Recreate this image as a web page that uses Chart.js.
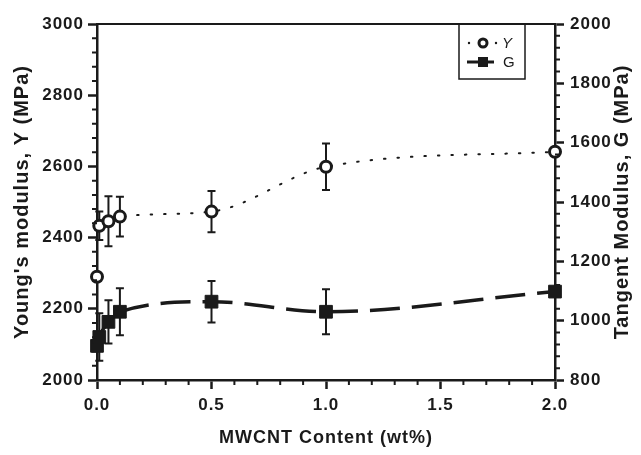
<!DOCTYPE html>
<html>
<head>
<meta charset="utf-8">
<script src="https://cdn.jsdelivr.net/npm/chart.js@4.4.1/dist/chart.umd.min.js"></script>
<style>
  body { margin: 0; background: #fff; }
  #wrap { width: 641px; height: 455px; }
</style>
</head>
<body>
<div id="wrap"><canvas id="modulusChart"></canvas></div>
<script>
// MWCNT loading (wt%) and measured moduli
const mwcnt = [0, 0.01, 0.05, 0.1, 0.5, 1.0, 2.0];
const youngs = [2290, 2433, 2446, 2459, 2473, 2599, 2641];
const youngsErr = [0, 40, 70, 56, 58, 65, 0];
const tangent = [915, 945, 996, 1030, 1064, 1030, 1098];
const tangentErr = [0, 80, 73, 79, 70, 76, 0];

// axis ticks
const xTicks = [0, 0.5, 1.0, 1.5, 2.0];
const youngsTicks = [2000, 2200, 2400, 2600, 2800, 3000];
const tangentTicks = [800, 1000, 1200, 1400, 1600, 1800, 2000];

const ink = '#1a1a1a';
const tickFont = { family: "'Liberation Sans Narrow', 'Liberation Sans', Arial, sans-serif", size: 17, weight: 'bold' };
const titleFamily = "'Liberation Sans', Arial, sans-serif";

Chart.defaults.color = ink;

function axisGrid() {
    return { display: true, drawOnChartArea: false, drawTicks: true, tickLength: 9, tickWidth: 2.5, tickColor: ink };
}

// error bars, drawn under the markers
const errorBars = {
    id: 'errorBars',
    beforeDatasetsDraw(chart) {
        const ctx = chart.ctx;
        ctx.save();
        ctx.strokeStyle = ink;
        ctx.lineWidth = 2;
        chart.data.datasets.forEach((ds, di) => {
            const meta = chart.getDatasetMeta(di);
            const yScale = chart.scales[ds.yAxisID];
            ds.errors.forEach((e, i) => {
                if (!e) return;
                const x = meta.data[i].x;
                const top = yScale.getPixelForValue(ds.data[i].y + e);
                const bot = yScale.getPixelForValue(ds.data[i].y - e);
                ctx.beginPath();
                ctx.moveTo(x, top); ctx.lineTo(x, bot);
                ctx.moveTo(x - 4, top); ctx.lineTo(x + 4, top);
                ctx.moveTo(x - 4, bot); ctx.lineTo(x + 4, bot);
                ctx.stroke();
            });
        });
        ctx.restore();
    }
};

// top frame line, minor ticks, right title and legend box
const decorations = {
    id: 'decorations',
    beforeDraw(chart) {
        chart.ctx.letterSpacing = '1px';
    },
    afterDraw(chart) {
        const { ctx, chartArea: a, scales } = chart;
        ctx.save();
        ctx.strokeStyle = ink;
        ctx.fillStyle = ink;

        ctx.lineWidth = 2;
        ctx.beginPath();
        ctx.moveTo(a.left, a.top);
        ctx.lineTo(a.right + 1, a.top);
        ctx.stroke();

        const minor = (scale, step, fn) => {
            const n = Math.round((scale.max - scale.min) / step);
            for (let i = 1; i < n; i++) {
                if (i % 5 === 0) continue;
                fn(scale.getPixelForValue(scale.min + i * step));
            }
        };
        ctx.lineWidth = 2;
        ctx.beginPath();
        minor(scales.x, 0.1, px => { ctx.moveTo(px, a.bottom); ctx.lineTo(px, a.bottom + 5); });
        minor(scales.yY, 40, py => { ctx.moveTo(a.left, py); ctx.lineTo(a.left - 5, py); });
        minor(scales.yG, 40, py => { ctx.moveTo(a.right, py); ctx.lineTo(a.right + 5, py); });
        ctx.stroke();

        // right axis title, reading bottom to top
        ctx.save();
        ctx.translate(622, (a.top + a.bottom) / 2);
        ctx.rotate(-Math.PI / 2);
        ctx.font = 'bold 20px ' + titleFamily;
        ctx.textAlign = 'center';
        ctx.textBaseline = 'middle';
        ctx.fillText('Tangent Modulus, G (MPa)', 0, 0);
        ctx.restore();

        // legend
        const bx = 459, by = a.top, bw = 66, bh = 55;
        ctx.lineWidth = 1.5;
        ctx.strokeRect(bx, by, bw, bh);
        const [dsY, dsG] = chart.data.datasets;
        let ry = by + 19;
        ctx.beginPath();
        ctx.arc(469, ry, 1.2, 0, Math.PI * 2);
        ctx.arc(496, ry, 1.2, 0, Math.PI * 2);
        ctx.fill();
        ctx.lineWidth = 3;
        ctx.fillStyle = '#fff';
        ctx.beginPath();
        ctx.arc(483, ry, 4, 0, Math.PI * 2);
        ctx.fill();
        ctx.stroke();
        ctx.fillStyle = ink;
        ctx.textBaseline = 'middle';
        ctx.textAlign = 'left';
        ctx.font = 'italic 15px ' + titleFamily;
        ctx.fillText(dsY.label, 502, ry + 1);
        ry = by + 38;
        ctx.lineWidth = 3;
        ctx.beginPath();
        ctx.moveTo(467, ry); ctx.lineTo(494, ry);
        ctx.stroke();
        ctx.fillRect(478, ry - 5, 10, 10);
        ctx.font = '15px ' + titleFamily;
        ctx.fillText(dsG.label, 503, ry + 1);
        ctx.restore();
    }
};

const ctx = document.getElementById('modulusChart').getContext('2d');
new Chart(ctx, {
    type: 'line',
    data: {
        datasets: [
            {
                label: 'Y',
                yAxisID: 'yY',
                data: mwcnt.map((x, i) => ({ x: x, y: youngs[i] })),
                errors: youngsErr,
                borderColor: ink,
                borderWidth: 2,
                borderDash: [1.5, 12],
                borderCapStyle: 'round',
                cubicInterpolationMode: 'monotone',
                segment: { borderColor: c => c.p0DataIndex === 0 ? 'rgba(0,0,0,0)' : undefined },
                pointStyle: 'circle',
                pointRadius: 5.5,
                pointBorderWidth: 3,
                pointBackgroundColor: '#fff',
                pointBorderColor: ink,
                clip: false
            },
            {
                label: 'G',
                yAxisID: 'yG',
                data: mwcnt.map((x, i) => ({ x: x, y: tangent[i] })),
                errors: tangentErr,
                borderColor: ink,
                borderWidth: 3.5,
                borderDash: [30, 12],
                cubicInterpolationMode: 'monotone',
                pointStyle: 'rect',
                pointRadius: 9,
                pointBorderWidth: 1,
                pointBackgroundColor: ink,
                pointBorderColor: ink,
                clip: false
            }
        ]
    },
    options: {
        responsive: true,
        maintainAspectRatio: false,
        animation: false,
        layout: { padding: { top: 24, left: 0, right: 0, bottom: 0 } },
        plugins: {
            legend: { display: false },
            tooltip: { enabled: false }
        },
        scales: {
            x: {
                type: 'linear',
                min: 0,
                max: 2,
                afterBuildTicks: s => { s.ticks = xTicks.map(v => ({ value: v })); },
                afterFit: s => { s.height = 75; },
                ticks: { font: tickFont, color: ink, padding: 6, callback: v => v.toFixed(1) },
                grid: axisGrid(),
                border: { color: ink, width: 2.5 },
                title: {
                    display: true,
                    text: 'MWCNT Content (wt%)',
                    color: ink,
                    font: { family: titleFamily, size: 18, weight: 'bold' },
                    padding: { top: 0, bottom: 6 }
                }
            },
            yY: {
                type: 'linear',
                position: 'left',
                min: 2000,
                max: 3000,
                afterBuildTicks: s => { s.ticks = youngsTicks.map(v => ({ value: v })); },
                afterFit: s => { s.width = 97; },
                ticks: { font: tickFont, color: ink, padding: 4, callback: v => String(v) },
                grid: axisGrid(),
                border: { color: ink, width: 2.5 },
                title: {
                    display: true,
                    text: "Young's modulus, Y (MPa)",
                    color: ink,
                    font: { family: titleFamily, size: 20, weight: 'bold' },
                    padding: { top: 10, bottom: 0 }
                }
            },
            yG: {
                type: 'linear',
                position: 'right',
                min: 800,
                max: 2000,
                afterBuildTicks: s => { s.ticks = tangentTicks.map(v => ({ value: v })); },
                afterFit: s => { s.width = 86; },
                ticks: { font: tickFont, color: ink, padding: 6, callback: v => String(v) },
                grid: axisGrid(),
                border: { color: ink, width: 2.5 }
            }
        }
    },
    plugins: [errorBars, decorations]
});
</script>
</body>
</html>
